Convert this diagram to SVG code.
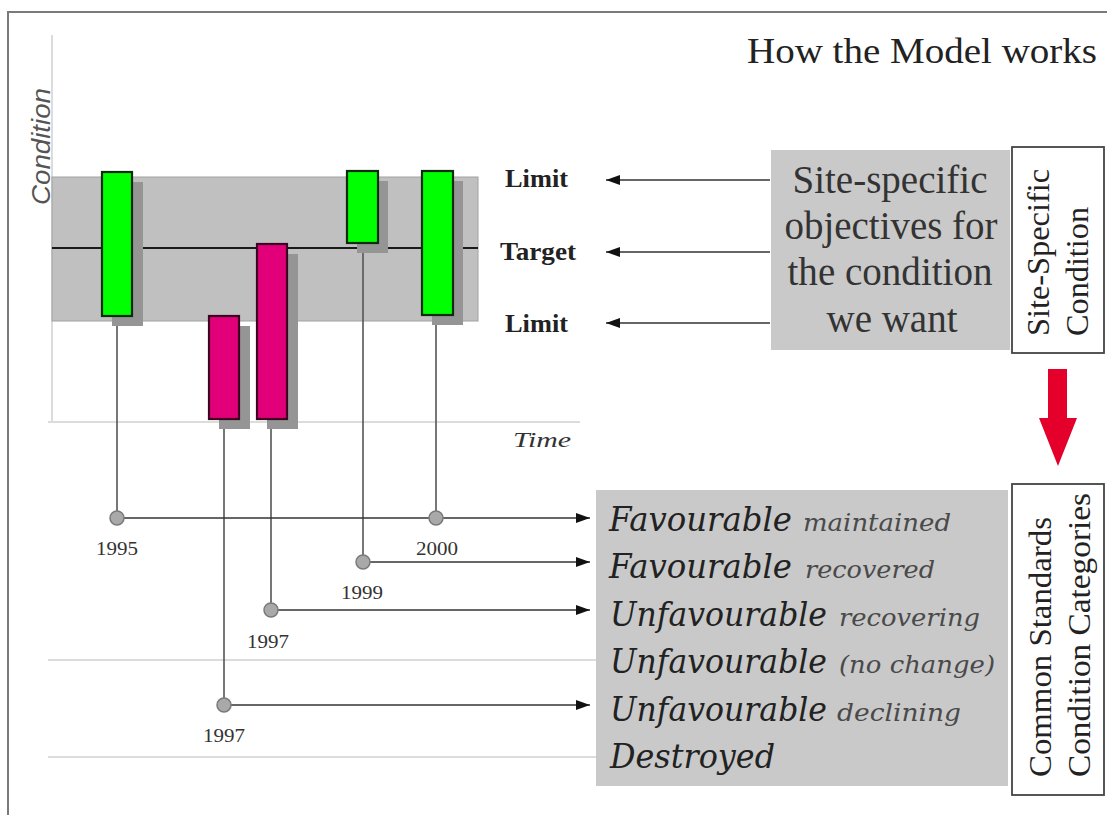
<svg xmlns="http://www.w3.org/2000/svg" width="1107" height="815" viewBox="0 0 1107 815">
  <style>
    .grid { stroke: #dcdcdc; stroke-width: 2; fill: none; }
    .drop { stroke: #555; stroke-width: 1.6; fill: none; }
    .arrow { stroke: #333; stroke-width: 1.6; fill: none; marker-end: url(#head); }
    .shadow { fill: #959595; }
    .good { fill: #00ff00; stroke: #0c2a0c; stroke-width: 2.2; }
    .bad { fill: #e2007a; stroke: #3e0020; stroke-width: 2.2; }
    .dot { fill: #a9a9a9; stroke: #7a7a7a; stroke-width: 1.5; }
    .year { font-family: "Liberation Serif", serif; font-size: 19px; fill: #333; text-anchor: middle; }
    .lim { font-family: "Liberation Serif", serif; font-size: 25px; font-weight: bold; fill: #222; }
    .obj { font-family: "Liberation Serif", serif; font-size: 39px; fill: #333; text-anchor: middle; }
    .side { font-family: "Liberation Serif", serif; font-size: 32px; fill: #222; }
    .big { font-family: "DejaVu Serif", serif; font-style: italic; font-size: 34px; fill: #222; }
    .small { font-family: "DejaVu Serif", serif; font-style: italic; font-size: 25px; fill: #4a4a4a; }
    .panel { fill: #c9c9c9; }
    .frame { fill: #fff; stroke: #444; stroke-width: 1.8; }
  </style>
  <defs>
    <marker id="head" markerUnits="userSpaceOnUse" markerWidth="14" markerHeight="10" refX="14" refY="5" orient="auto">
      <path d="M0,0 L14,5 L0,10 z" fill="#111"/>
    </marker>
  </defs>

  <rect width="1107" height="815" fill="#fff"/>
  <!-- outer frame -->
  <path d="M8,815 L8,12 L1107,12" fill="none" stroke="#7a7a7a" stroke-width="2"/>

  <!-- chart axes and grid -->
  <g id="axes">
    <line class="grid" x1="52" y1="35" x2="52" y2="422"/>
    <line class="grid" x1="48" y1="422" x2="580" y2="422"/>
    <line class="grid" x1="48" y1="660" x2="598" y2="660"/>
    <line class="grid" x1="48" y1="757" x2="598" y2="757"/>
    <text transform="translate(50,205) rotate(-90)" font-family="Liberation Sans, sans-serif" font-style="italic" font-size="26" fill="#555" textLength="117" lengthAdjust="spacingAndGlyphs">Condition</text>
    <text x="513" y="447" font-family="Liberation Serif, serif" font-style="italic" font-size="22" fill="#333" textLength="58" lengthAdjust="spacingAndGlyphs">Time</text>
  </g>

  <!-- acceptable range band with target line -->
  <g id="band">
    <rect x="52" y="177" width="426" height="144" fill="#c0c0c0" stroke="#a2a2a2" stroke-width="1"/>
    <line x1="52" y1="248" x2="478" y2="248" stroke="#1a1a1a" stroke-width="2.2"/>
  </g>

  <!-- connectors -->
  <g id="connectors">
    <line class="drop" x1="117" y1="316" x2="117" y2="511"/>
    <line class="drop" x1="224" y1="419" x2="224" y2="698"/>
    <line class="drop" x1="271" y1="419" x2="271" y2="603"/>
    <line class="drop" x1="363" y1="243" x2="363" y2="555"/>
    <line class="drop" x1="436" y1="316" x2="436" y2="511"/>
    <line class="arrow" x1="117" y1="518" x2="590" y2="518"/>
    <line class="arrow" x1="363" y1="562" x2="590" y2="562"/>
    <line class="arrow" x1="271" y1="610" x2="590" y2="610"/>
    <line class="arrow" x1="224" y1="705" x2="590" y2="705"/>
    <line class="arrow" x1="770" y1="180" x2="606" y2="180"/>
    <line class="arrow" x1="770" y1="252" x2="606" y2="252"/>
    <line class="arrow" x1="770" y1="323" x2="606" y2="323"/>
    <polygon id="down-arrow" points="1048,369 1067,369 1067,418 1077,418 1058,466 1039,418 1048,418" fill="#e4002b"/>
  </g>

  <!-- condition bars -->
  <g id="bar-1995">
    <rect class="shadow" x="112" y="182" width="31" height="144"/>
    <rect class="good" x="102" y="172" width="30" height="144"/>
  </g>
  <g id="bar-1997a">
    <rect class="shadow" x="219" y="326" width="31" height="103"/>
    <rect class="bad" x="209" y="316" width="30" height="103"/>
  </g>
  <g id="bar-1997b">
    <rect class="shadow" x="267" y="254" width="31" height="175"/>
    <rect class="bad" x="257" y="244" width="30" height="175"/>
  </g>
  <g id="bar-1999">
    <rect class="shadow" x="357" y="181" width="31" height="72"/>
    <rect class="good" x="347" y="171" width="31" height="72"/>
  </g>
  <g id="bar-2000">
    <rect class="shadow" x="432" y="181" width="31" height="144"/>
    <rect class="good" x="422" y="171" width="31" height="144"/>
  </g>

  <!-- assessment points -->
  <g id="point-1995"><circle class="dot" cx="117" cy="518" r="7"/><text class="year" x="117" y="555" textLength="42" lengthAdjust="spacingAndGlyphs">1995</text></g>
  <g id="point-2000"><circle class="dot" cx="436" cy="518" r="7"/><text class="year" x="437" y="555" textLength="42" lengthAdjust="spacingAndGlyphs">2000</text></g>
  <g id="point-1999"><circle class="dot" cx="363" cy="562" r="7"/><text class="year" x="362" y="599" textLength="42" lengthAdjust="spacingAndGlyphs">1999</text></g>
  <g id="point-1997b"><circle class="dot" cx="271" cy="610" r="7"/><text class="year" x="268" y="648" textLength="42" lengthAdjust="spacingAndGlyphs">1997</text></g>
  <g id="point-1997a"><circle class="dot" cx="224" cy="705" r="7"/><text class="year" x="224" y="742" textLength="42" lengthAdjust="spacingAndGlyphs">1997</text></g>

  <!-- range labels -->
  <g id="labels">
    <text class="lim" x="505" y="187" textLength="63" lengthAdjust="spacingAndGlyphs">Limit</text>
    <text class="lim" x="500" y="260" textLength="76" lengthAdjust="spacingAndGlyphs">Target</text>
    <text class="lim" x="505" y="332" textLength="63" lengthAdjust="spacingAndGlyphs">Limit</text>
  </g>

  <g id="title">
    <text x="747" y="63" font-family="Liberation Serif, serif" font-size="36" fill="#222" textLength="350" lengthAdjust="spacingAndGlyphs">How the Model works</text>
  </g>

  <g id="objectives">
    <rect class="panel" x="771" y="150" width="239" height="200"/>
    <text class="obj" x="890" y="193" textLength="195" lengthAdjust="spacingAndGlyphs">Site-specific</text>
    <text class="obj" x="891" y="239" textLength="213" lengthAdjust="spacingAndGlyphs">objectives for</text>
    <text class="obj" x="890" y="285" textLength="205" lengthAdjust="spacingAndGlyphs">the condition</text>
    <text class="obj" x="892" y="332" textLength="131" lengthAdjust="spacingAndGlyphs">we want</text>
  </g>

  <g id="site-specific">
    <rect class="frame" x="1012" y="147" width="92" height="206"/>
    <text class="side" transform="translate(1049,336) rotate(-90)" textLength="167" lengthAdjust="spacingAndGlyphs">Site-Specific</text>
    <text class="side" transform="translate(1088,336) rotate(-90)" textLength="129" lengthAdjust="spacingAndGlyphs">Condition</text>
  </g>

  <g id="categories">
    <rect class="panel" x="596" y="490" width="412" height="296"/>
    <text class="big" x="609" y="531" textLength="183" lengthAdjust="spacingAndGlyphs">Favourable</text>
    <text class="small" x="803" y="531" textLength="148" lengthAdjust="spacingAndGlyphs">maintained</text>
    <text class="big" x="609" y="578" textLength="183" lengthAdjust="spacingAndGlyphs">Favourable</text>
    <text class="small" x="805" y="578" textLength="130" lengthAdjust="spacingAndGlyphs">recovered</text>
    <text class="big" x="610" y="626" textLength="217" lengthAdjust="spacingAndGlyphs">Unfavourable</text>
    <text class="small" x="839" y="626" textLength="141" lengthAdjust="spacingAndGlyphs">recovering</text>
    <text class="big" x="610" y="673" textLength="217" lengthAdjust="spacingAndGlyphs">Unfavourable</text>
    <text class="small" x="839" y="673" textLength="156" lengthAdjust="spacingAndGlyphs">(no change)</text>
    <text class="big" x="610" y="721" textLength="217" lengthAdjust="spacingAndGlyphs">Unfavourable</text>
    <text class="small" x="837" y="721" textLength="124" lengthAdjust="spacingAndGlyphs">declining</text>
    <text class="big" x="610" y="768" textLength="165" lengthAdjust="spacingAndGlyphs">Destroyed</text>
  </g>

  <g id="common-standards">
    <rect class="frame" x="1012" y="484" width="92" height="311"/>
    <text class="side" transform="translate(1051,777) rotate(-90)" textLength="260" lengthAdjust="spacingAndGlyphs">Common Standards</text>
    <text class="side" transform="translate(1090,777) rotate(-90)" textLength="284" lengthAdjust="spacingAndGlyphs">Condition Categories</text>
  </g>
</svg>
